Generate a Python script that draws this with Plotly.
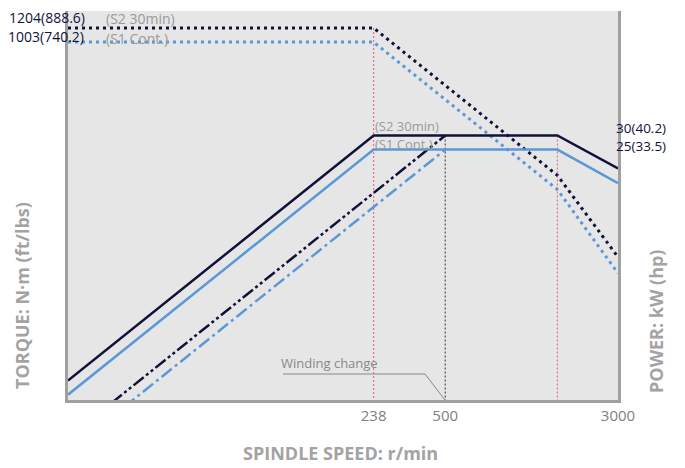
import plotly.graph_objects as go

# ---- data ----
speed = [10, 238, 1600, 3000]                 # r/min
torque_s2 = [1204, 1204, 179, 62.2]           # N·m (S2 30min)
torque_s1 = [1003, 1003, 149, 50.5]           # N·m (S1 Cont.)
power_s2 = [1.26, 30, 30, 19.6]               # kW (S2 30min)
power_s1 = [1.05, 25, 25, 16.2]               # kW (S1 Cont.)
low_speed = [10, 500]                         # low winding
low_power_s2 = [0.6, 30]
low_power_s1 = [0.5, 25]
marker_speeds = [238, 500, 1600]
x_ticks = [238, 500, 3000]
x_ticklabels = ["238", "500", "3000"]

DARK = "#10123a"
BLUE = "#5b98d8"
GRAY = "#9a9a9a"
RED = "#e0607a"

fig = go.Figure()

# reference lines
fig.add_trace(go.Scatter(x=[marker_speeds[0]] * 2, y=[torque_s2[1], 5], yaxis="y",
                         mode="lines", line=dict(color=RED, width=1, dash="2px,2px"),
                         hoverinfo="skip", showlegend=False))
fig.add_trace(go.Scatter(x=[marker_speeds[1]] * 2, y=[power_s2[1], 0.5], yaxis="y2",
                         mode="lines", line=dict(color="#333333", width=1, dash="2px,2px"),
                         hoverinfo="skip", showlegend=False))
fig.add_trace(go.Scatter(x=[marker_speeds[2]] * 2, y=[power_s2[2], 0.5], yaxis="y2",
                         mode="lines", line=dict(color=RED, width=1, dash="2px,2px"),
                         hoverinfo="skip", showlegend=False))

# torque curves
fig.add_trace(go.Scatter(x=speed, y=torque_s1, yaxis="y", mode="lines",
                         line=dict(color=BLUE, width=3, dash="3px,4px"), showlegend=False))
fig.add_trace(go.Scatter(x=speed, y=torque_s2, yaxis="y", mode="lines",
                         line=dict(color=DARK, width=3, dash="3px,4px"), showlegend=False))

# low winding power
fig.add_trace(go.Scatter(x=low_speed, y=low_power_s1, yaxis="y2", mode="lines",
                         line=dict(color=BLUE, width=2.5, dash="13px,4px,3px,4px"), showlegend=False))
fig.add_trace(go.Scatter(x=low_speed, y=low_power_s2, yaxis="y2", mode="lines",
                         line=dict(color=DARK, width=2.5, dash="13px,3px,3px,3px,3px,3px"), showlegend=False))

# power curves
fig.add_trace(go.Scatter(x=speed, y=power_s1, yaxis="y2", mode="lines",
                         line=dict(color=BLUE, width=2.5), showlegend=False))
fig.add_trace(go.Scatter(x=speed, y=power_s2, yaxis="y2", mode="lines",
                         line=dict(color=DARK, width=2.5), showlegend=False))

FONT = "Open Sans"

# page body has an 8px default margin; screen coords -> plot-area paper coords
def px_x(px):
    return (px - 68) / 550.0

def px_y(py):
    return (400 - py) / 389.0

ann = []
def label(text, x, y, xanchor, color, size, bold=False, angle=0):
    ann.append(dict(text=("<b>%s</b>" % text) if bold else text, x=px_x(x), y=px_y(y),
                    xref="paper", yref="paper", xanchor=xanchor, yanchor="middle",
                    showarrow=False, textangle=angle, borderpad=0,
                    font=dict(family=FONT, size=size, color=color)))

label("1204(888.6)", 86, 18, "right", DARK, 14)
label("1003(740.2)", 85, 37, "right", DARK, 14)
label("(S2 30min)", 105, 19, "left", GRAY, 14)
label("(S1 Cont.)", 105, 38, "left", GRAY, 14)
label("(S2 30min)", 374, 126, "left", GRAY, 13)
label("(S1 Cont.)", 374, 144, "left", GRAY, 13)
label("30(40.2)", 615, 128, "left", DARK, 13.5)
label("25(33.5)", 615, 146, "left", DARK, 13.5)
label("Winding change", 280, 363, "left", "#888888", 13)
label("SPINDLE SPEED: r/min", 340, 453, "center", "#a3a3a3", 18, bold=True)
label("TORQUE: N·m (ft/lbs)", 22, 296, "center", "#a3a3a3", 18, bold=True, angle=-90)
label("POWER: kW (hp)", 656, 322, "center", "#a3a3a3", 18, bold=True, angle=-90)

shapes = [dict(type="path", xref="paper", yref="paper",
               path="M %f %f L %f %f L %f %f" % (px_x(283), px_y(374), px_x(425), px_y(374),
                                                  px_x(445), px_y(400)),
               line=dict(color="#888888", width=1))]

fig.update_layout(
    width=677, height=460,
    margin=dict(l=60, r=67, t=3, b=68),
    paper_bgcolor="white", plot_bgcolor="#e6e6e6",
    annotations=ann, shapes=shapes,
    xaxis=dict(type="log", range=[1, 3.4771], tickvals=x_ticks, ticktext=x_ticklabels,
               showgrid=False, zeroline=False, showline=True, linecolor="#a0a0a0", linewidth=2.5,
               ticks="", tickfont=dict(family=FONT, size=15, color="#808080")),
    yaxis=dict(type="log", range=[0.9908, 3.1761], showgrid=False, zeroline=False,
               showticklabels=False, ticks="", showline=True, linecolor="#a0a0a0", linewidth=2.5),
    yaxis2=dict(type="log", range=[-0.0088, 2.1767], overlaying="y", side="right",
                showgrid=False, zeroline=False, showticklabels=False, ticks="",
                showline=True, linecolor="#a0a0a0", linewidth=2.5),
)

fig.write_html("out.html")
